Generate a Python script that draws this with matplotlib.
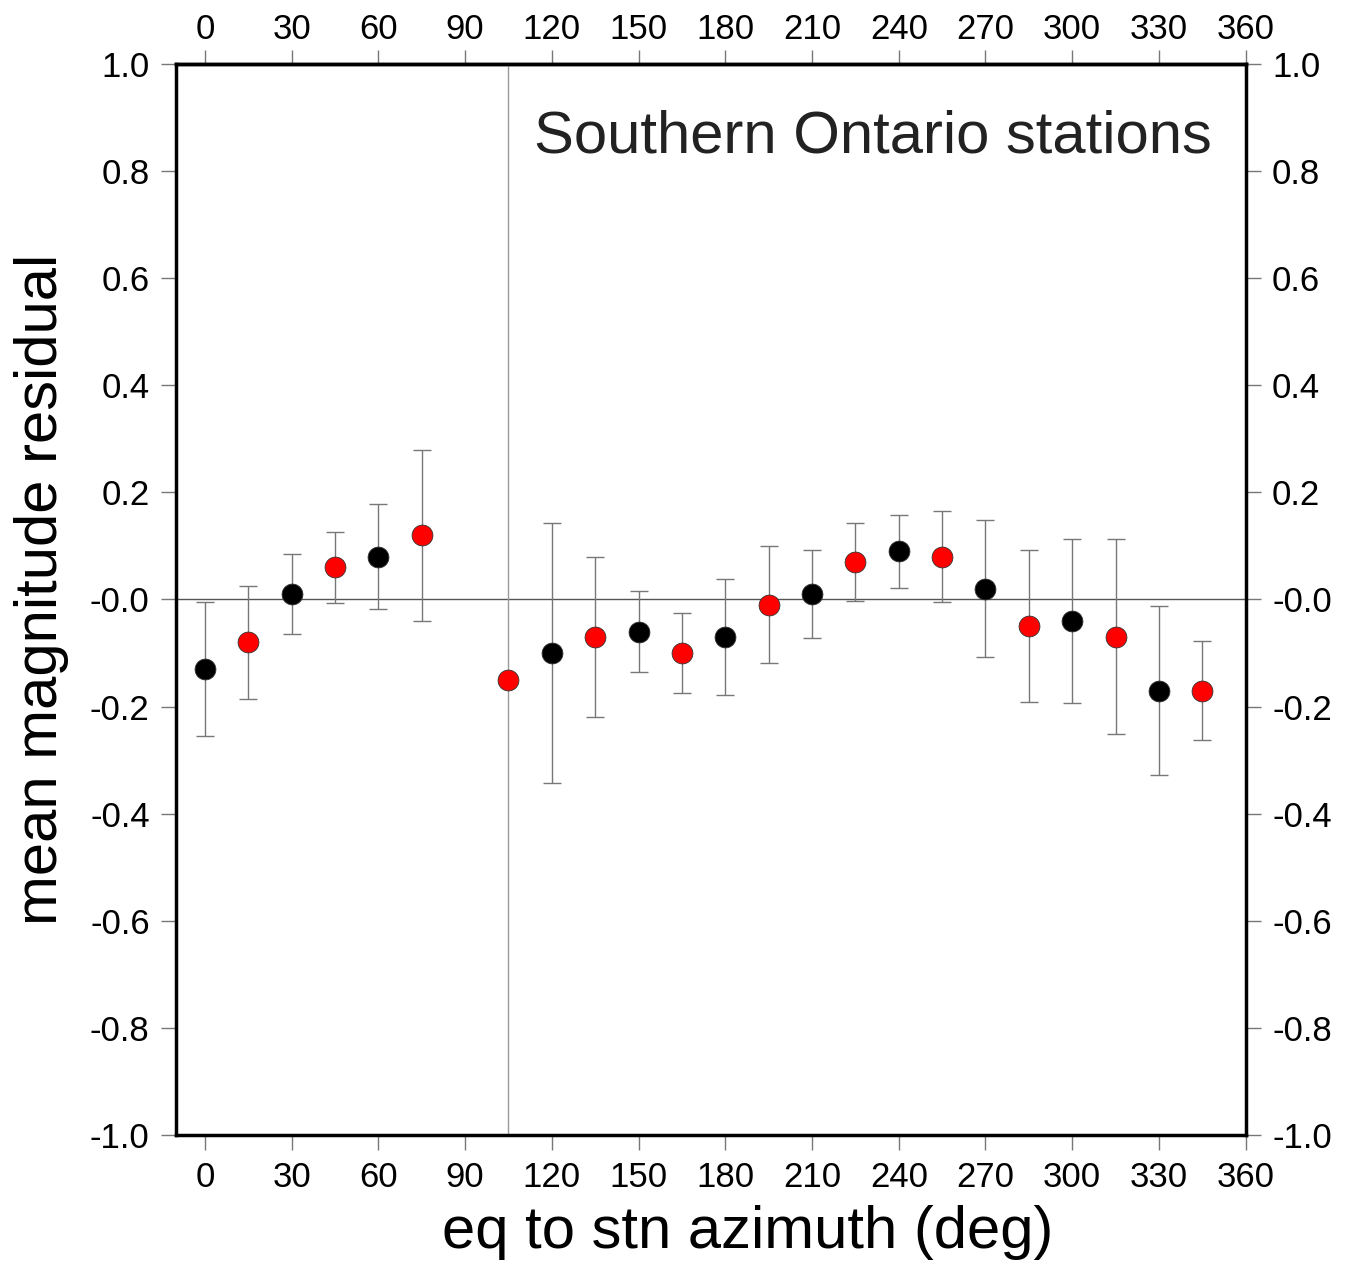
import numpy as np
import matplotlib
matplotlib.use("Agg")
import matplotlib.pyplot as plt

plt.rcParams['font.family'] = ['Liberation Sans', 'DejaVu Sans']

# azimuth bins (deg), mean residuals, error half-widths
az = [0, 15, 30, 45, 60, 75, 105, 120, 135, 150, 165, 180, 195, 210,
      225, 240, 255, 270, 285, 300, 315, 330, 345]
resid = [-0.13, -0.08, 0.01, 0.06, 0.08, 0.12, -0.15, -0.10, -0.07, -0.06,
         -0.10, -0.07, -0.01, 0.01, 0.07, 0.09, 0.08, 0.02, -0.05, -0.04,
         -0.07, -0.17, -0.17]
err = [0.125, 0.105, 0.074, 0.066, 0.098, 0.16, 0.0, 0.242, 0.15, 0.075,
       0.075, 0.108, 0.109, 0.082, 0.073, 0.068, 0.085, 0.128, 0.142, 0.153,
       0.182, 0.157, 0.092]
colors = ['black', 'red', 'black', 'red', 'black', 'red', 'red', 'black',
          'red', 'black', 'red', 'black', 'red', 'black', 'red', 'black',
          'red', 'black', 'red', 'black', 'red', 'black', 'red']
xticks = list(range(0, 361, 30))
yticks = [-1.0, -0.8, -0.6, -0.4, -0.2, 0.0, 0.2, 0.4, 0.6, 0.8, 1.0]
ylabels = ['-1.0', '-0.8', '-0.6', '-0.4', '-0.2', '-0.0', '0.2', '0.4',
           '0.6', '0.8', '1.0']

fig = plt.figure(figsize=(13.54, 12.69), dpi=100)
ax = fig.add_axes([0.130, 0.1056, 0.790, 0.844])

ax.axhline(0, color='#555555', lw=1.0, zorder=1)
ax.axvline(105, color='#999999', lw=1.0, zorder=1)

for x, y, e, c in zip(az, resid, err, colors):
    if e > 0:
        ax.errorbar(x, y, yerr=e, fmt='none', ecolor='#777777', elinewidth=1.0,
                    capsize=6.5, capthick=1.0, zorder=2)
    ax.plot(x, y, 'o', color=c, markersize=15, markeredgecolor='#333333',
            markeredgewidth=0.6, zorder=3)

ax.set_xlim(-10, 360)
ax.set_ylim(-1.0, 1.0)
ax.set_xticks(xticks)
ax.set_yticks(yticks)
ax.set_yticklabels(ylabels)
ax.tick_params(direction='out', length=11, width=1, color='#777777',
               labelsize=25, pad=8, right=True, labelright=True)

# top axis, labels sit closer to the frame than the bottom ones
top = ax.secondary_xaxis('top')
top.set_xticks(xticks)
top.tick_params(direction='out', length=10, width=1, color='#777777',
                labelsize=25, pad=3)

for s in list(ax.spines.values()) + list(top.spines.values()):
    s.set_linewidth(2.5)
    s.set_color('black')

fig.text(748 / 1354, 1 - 1233 / 1269, 'eq to stn azimuth (deg)', fontsize=43,
         ha='center', va='center')
fig.text(42 / 1354, 1 - 589 / 1269, 'mean magnitude residual', fontsize=43,
         ha='center', va='center', rotation=90)
ax.text(0.968, 0.932, 'Southern Ontario stations', transform=ax.transAxes,
        ha='right', va='center', fontsize=43, color='#222222')

fig.savefig('out.png', dpi=100)
